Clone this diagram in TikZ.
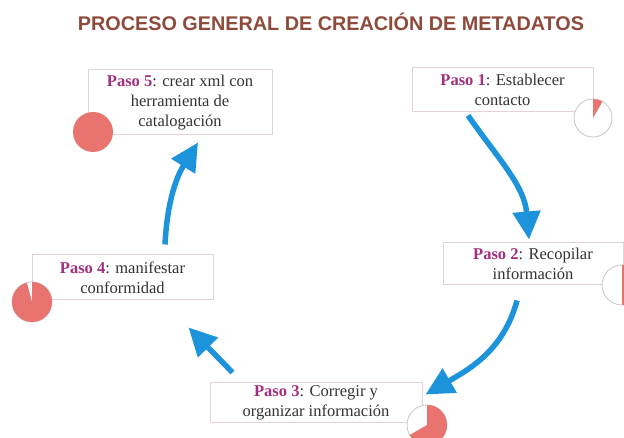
\documentclass[tikz,border=0pt]{standalone}
\usepackage{fontspec}
\setmainfont{Liberation Serif}
\newfontfamily\titlefont{Liberation Sans}
\usepackage{tikz}
\usetikzlibrary{arrows.meta,calc}

\definecolor{titlebrown}{HTML}{8E4A3A}
\definecolor{pasopurple}{HTML}{A3307E}
\definecolor{boxline}{HTML}{E3D3D3}
\definecolor{piered}{HTML}{E8736F}
\definecolor{arrowblue}{HTML}{1D93DB}
\definecolor{textgray}{HTML}{333333}

\tikzset{
  stepbox/.style={draw=boxline, line width=1pt, fill=white, align=center, text=textgray,
    font=\fontsize{16.5}{20}\selectfont, inner sep=0pt},
  flow/.style={draw=arrowblue, line width=5.5pt, -{Triangle[length=28pt,width=27pt]}},
  pieline/.style={draw=black!22, fill=white, line width=0.8pt},
}
\newcommand{\paso}[1]{\textcolor{pasopurple}{\textbf{Paso #1}}}
% center, radius, filled degrees
\newcommand{\piechart}[3]{%
  \filldraw[pieline] (#1) circle (#2);
  \fill[piered] (#1) -- ++(90:#2) arc[start angle=90, end angle=90-#3, radius=#2] -- cycle;
}

\begin{document}
\begin{tikzpicture}[x=1pt, y=1pt]
\useasboundingbox (0,0) rectangle (624,438);
\fill[white] (0,0) rectangle (624,438);

\node[draw=none, text=titlebrown, font=\titlefont\bfseries\fontsize{19.8}{22}\selectfont] (title) at (331,416) {PROCESO GENERAL DE CREACIÓN DE METADATOS};

\node[stepbox, minimum width=184, minimum height=65] (step5) at (180,335.5) {\paso{5}: crear xml con\\ herramienta de\\ catalogación};
\node[stepbox, minimum width=181, minimum height=44] (step1) at (502.5,348) {\paso{1}: Establecer\\ contacto};
\node[stepbox, minimum width=180, minimum height=42] (step2) at (533,174) {\paso{2}: Recopilar\\ información};
\node[stepbox, minimum width=212, minimum height=40] (step3) at (316,35) {\paso{3}: Corregir y\\ organizar información};
\node[stepbox, minimum width=181, minimum height=45] (step4) at (122.5,160.5) {\paso{4}: manifestar\\ conformidad};

% progress pies
\piechart{593,320}{19pt}{30}
\piechart{622,153}{20pt}{180}
\piechart{427,13}{20pt}{240}
\piechart{32,136}{20pt}{345}
\fill[piered] (93,306) circle (20pt);

\draw[flow] ($(step1.south)+(-34.5,-3)$) to[out=-55, in=95] ($(step2.north)+(-4,3)$);
\draw[flow] ($(step2.south)+(-16,-15)$) to[out=-105, in=30] ($(step3.north east)+(3,-12)$);
\draw[flow] ($(step3.north west)+(23,10)$) -- ($(step4.south east)+(-25,-27)$);
\draw[flow] ($(step4.north)+(42.5,10)$) to[out=87, in=-122] ($(step5.south)+(18,-7)$);
\end{tikzpicture}
\end{document}
